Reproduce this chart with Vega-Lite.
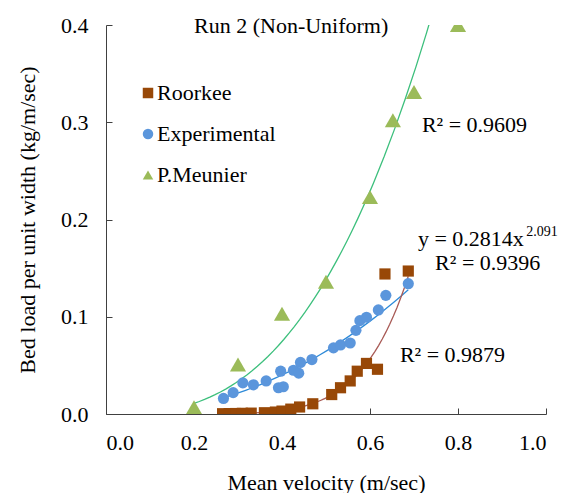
{
  "$schema": "https://vega.github.io/schema/vega-lite/v6.json",
  "width": 440,
  "height": 389,
  "autosize": {"type": "none"},
  "padding": {"left": 106, "top": 25, "right": 23, "bottom": 79},
  "background": "white",
  "config": {
    "view": {"stroke": null},
    "font": "Liberation Serif",
    "axis": {"grid": false, "domainColor": "#404040", "tickColor": "#404040", "labelColor": "#000", "titleColor": "#000", "labelFont": "Liberation Serif", "titleFont": "Liberation Serif", "labelFontSize": 22, "titleFontSize": 22, "titleFontWeight": "normal"},
    "legend": {"labelFont": "Liberation Serif", "labelFontSize": 22, "labelColor": "#000", "padding": 0}
  },
  "title": {"text": "Run 2 (Non-Uniform)", "anchor": "start", "frame": "group", "dx": 88, "offset": -41, "baseline": "alphabetic", "font": "Liberation Serif", "fontSize": 22, "fontWeight": "normal", "color": "#000"},
  "datasets": {
    "obs": [
      {"series": "Roorkee", "v": 0.265, "q": 0.0003},
      {"series": "Roorkee", "v": 0.28, "q": 0.0004},
      {"series": "Roorkee", "v": 0.295, "q": 0.0005},
      {"series": "Roorkee", "v": 0.31, "q": 0.0007},
      {"series": "Roorkee", "v": 0.33, "q": 0.0009},
      {"series": "Roorkee", "v": 0.36, "q": 0.0013},
      {"series": "Roorkee", "v": 0.385, "q": 0.002},
      {"series": "Roorkee", "v": 0.4, "q": 0.003},
      {"series": "Roorkee", "v": 0.42, "q": 0.005},
      {"series": "Roorkee", "v": 0.44, "q": 0.0072},
      {"series": "Roorkee", "v": 0.47, "q": 0.0105},
      {"series": "Roorkee", "v": 0.513, "q": 0.02},
      {"series": "Roorkee", "v": 0.533, "q": 0.027},
      {"series": "Roorkee", "v": 0.555, "q": 0.034},
      {"series": "Roorkee", "v": 0.571, "q": 0.044},
      {"series": "Roorkee", "v": 0.592, "q": 0.052},
      {"series": "Roorkee", "v": 0.617, "q": 0.046},
      {"series": "Roorkee", "v": 0.634, "q": 0.144},
      {"series": "Roorkee", "v": 0.687, "q": 0.147},
      {"series": "Experimental", "v": 0.267, "q": 0.016},
      {"series": "Experimental", "v": 0.289, "q": 0.022},
      {"series": "Experimental", "v": 0.311, "q": 0.032},
      {"series": "Experimental", "v": 0.335, "q": 0.03},
      {"series": "Experimental", "v": 0.364, "q": 0.034},
      {"series": "Experimental", "v": 0.392, "q": 0.027},
      {"series": "Experimental", "v": 0.403, "q": 0.028},
      {"series": "Experimental", "v": 0.397, "q": 0.044},
      {"series": "Experimental", "v": 0.426, "q": 0.045},
      {"series": "Experimental", "v": 0.438, "q": 0.042},
      {"series": "Experimental", "v": 0.442, "q": 0.053},
      {"series": "Experimental", "v": 0.468, "q": 0.056},
      {"series": "Experimental", "v": 0.517, "q": 0.068},
      {"series": "Experimental", "v": 0.533, "q": 0.071},
      {"series": "Experimental", "v": 0.555, "q": 0.073},
      {"series": "Experimental", "v": 0.568, "q": 0.086},
      {"series": "Experimental", "v": 0.577, "q": 0.096},
      {"series": "Experimental", "v": 0.592, "q": 0.0995},
      {"series": "Experimental", "v": 0.619, "q": 0.107},
      {"series": "Experimental", "v": 0.636, "q": 0.122},
      {"series": "Experimental", "v": 0.687, "q": 0.134},
      {"series": "P.Meunier", "v": 0.2, "q": 0.007},
      {"series": "P.Meunier", "v": 0.3, "q": 0.051},
      {"series": "P.Meunier", "v": 0.4, "q": 0.103},
      {"series": "P.Meunier", "v": 0.5, "q": 0.136},
      {"series": "P.Meunier", "v": 0.6, "q": 0.223},
      {"series": "P.Meunier", "v": 0.652, "q": 0.302},
      {"series": "P.Meunier", "v": 0.7, "q": 0.331},
      {"series": "P.Meunier", "v": 0.8, "q": 0.4}
    ],
    "notes": [
      {"label": "R² = 0.9609", "v": 0.718, "q": 0.29},
      {"label": "y = 0.2814x", "v": 0.709, "q": 0.173},
      {"label": "R² = 0.9396", "v": 0.748, "q": 0.148},
      {"label": "R² = 0.9879", "v": 0.668, "q": 0.0535}
    ],
    "sup": [
      {"label": "2.091", "v": 0.955, "q": 0.183}
    ]
  },
  "encoding": {
    "x": {
      "field": "v", "type": "quantitative",
      "scale": {"domain": [0, 1], "nice": false, "zero": true},
      "axis": {"title": "Mean velocity (m/sec)", "values": [0, 0.2, 0.4, 0.6, 0.8, 1.0], "format": ".1f", "tickSize": -6, "labelPadding": 24, "titlePadding": 19, "labelFont": "Liberation Serif", "titleFont": "Liberation Serif"}
    },
    "y": {
      "field": "q", "type": "quantitative",
      "scale": {"domain": [0, 0.4], "nice": false},
      "axis": {"title": "Bed load per unit width (kg/m/sec)", "values": [0, 0.1, 0.2, 0.3, 0.4], "format": ".1f", "tickSize": -6, "labelPadding": 24, "titlePadding": 21, "labelFont": "Liberation Serif", "titleFont": "Liberation Serif"}
    }
  },
  "layer": [
    {
      "data": {"name": "obs"},
      "transform": [{"filter": "datum.series === 'P.Meunier'"}, {"regression": "q", "on": "v", "method": "pow"}],
      "mark": {"type": "line", "color": "#3cbf7c", "strokeWidth": 1.3, "clip": true},
      "encoding": {}
    },
    {
      "data": {"name": "obs"},
      "transform": [{"filter": "datum.series === 'Experimental'"}, {"regression": "q", "on": "v", "method": "pow"}],
      "mark": {"type": "line", "color": "#2e8ad8", "strokeWidth": 1.3, "clip": true},
      "encoding": {}
    },
    {
      "data": {"name": "obs"},
      "transform": [{"filter": "datum.series === 'Roorkee'"}, {"regression": "q", "on": "v", "method": "pow"}],
      "mark": {"type": "line", "color": "#a85a55", "strokeWidth": 1.3, "clip": true},
      "encoding": {}
    },
    {
      "data": {"name": "obs"},
      "transform": [{"filter": "datum.series !== 'P.Meunier'"}],
      "mark": {"type": "point", "filled": true, "opacity": 1, "size": 125, "clip": true},
      "encoding": {
        "color": {
          "field": "series", "type": "nominal",
          "scale": {"domain": ["Roorkee", "Experimental", "P.Meunier"], "range": ["#984807", "#5b96dc", "#9bbb59"]},
          "legend": {"title": null, "orient": "none", "legendX": 31, "legendY": 57, "rowPadding": 19, "labelOffset": -2, "symbolSize": 110, "labelFont": "Liberation Serif",
            "encode": {"symbols": {"update": {"size": {"signal": "datum.value === 'P.Meunier' ? 190 : 110"}}}}}
        },
        "shape": {
          "field": "series", "type": "nominal",
          "scale": {"domain": ["Roorkee", "Experimental", "P.Meunier"], "range": ["square", "circle", "triangle-up"]},
          "legend": {"title": null, "orient": "none", "legendX": 31, "legendY": 57, "rowPadding": 19, "labelOffset": -2, "symbolSize": 110, "labelFont": "Liberation Serif",
            "encode": {"symbols": {"update": {"size": {"signal": "datum.value === 'P.Meunier' ? 190 : 110"}}}}}
        }
      }
    },
    {
      "data": {"name": "obs"},
      "transform": [{"filter": "datum.series === 'P.Meunier'"}],
      "mark": {"type": "point", "filled": true, "opacity": 1, "size": 260, "clip": true},
      "encoding": {
        "color": {"field": "series", "type": "nominal"},
        "shape": {"field": "series", "type": "nominal"}
      }
    },
    {
      "data": {"name": "notes"},
      "mark": {"type": "text", "align": "left", "baseline": "alphabetic", "fontSize": 22, "font": "Liberation Serif", "color": "#000"},
      "encoding": {
        "text": {"field": "label"}
      }
    },
    {
      "data": {"name": "sup"},
      "mark": {"type": "text", "align": "left", "baseline": "alphabetic", "fontSize": 14, "font": "Liberation Serif", "color": "#000"},
      "encoding": {
        "text": {"field": "label"}
      }
    }
  ]
}
